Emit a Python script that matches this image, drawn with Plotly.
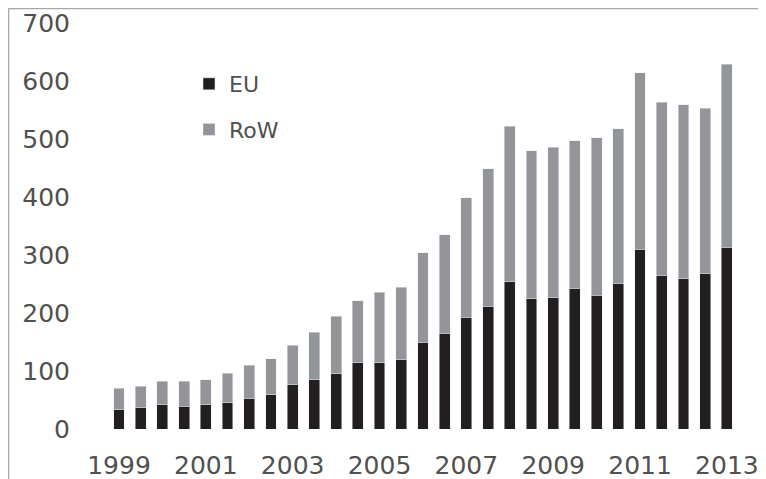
import plotly.graph_objects as go

periods = [1999 + 0.5 * i for i in range(29)]
eu = [33, 37, 42, 39, 42, 45, 53, 59, 76, 85, 95, 114, 114, 119, 150,
      165, 193, 212, 254, 225, 226, 243, 231, 251, 310, 265, 259, 268, 313]
total = [70, 74, 82, 82, 85, 96, 110, 121, 144, 167, 194, 221, 236, 244, 304,
         335, 399, 449, 522, 480, 486, 497, 502, 518, 614, 563, 559, 553, 629]
row = [t - e for t, e in zip(total, eu)]
tick_years = [1999, 2001, 2003, 2005, 2007, 2009, 2011, 2013]
tick_labels = [str(y) for y in tick_years]
y_ticks = [0, 100, 200, 300, 400, 500, 600, 700]

FONT = "DejaVu Sans"
TXT = "#505050"

fig = go.Figure()
fig.add_trace(go.Bar(x=periods, y=eu, name="EU", marker_color="#231f20",
                     width=0.25, legendgroup="a"))
fig.add_trace(go.Bar(x=periods, y=row, name="RoW", marker_color="#939598",
                     width=0.25, legendgroup="b"))

W, H = 758, 471
L, R, T, B = 72, 15, 15, 50
pw, ph = W - L - R, H - T - B
ppu = 21.71 / 0.5
r0 = 1999 - (111 - L) / ppu
r1 = r0 + pw / ppu

fig.update_layout(
    width=W, height=H,
    margin=dict(l=L, r=R, t=T, b=B, autoexpand=False),
    barmode="stack",
    plot_bgcolor="white", paper_bgcolor="white",
    font=dict(family=FONT, color=TXT),
    showlegend=True,
    legend=dict(x=(181 - L) / pw, y=1 - (55 - T) / ph, xanchor="left", yanchor="top",
                traceorder="grouped", tracegroupgap=14,
                font=dict(size=22, color=TXT, family=FONT),
                bgcolor="rgba(0,0,0,0)"),
    xaxis=dict(range=[r0, r1], tickvals=tick_years, ticktext=tick_labels,
               showgrid=False, zeroline=False, showline=False, automargin=False,
               tickfont=dict(size=25, color=TXT, family=FONT),
               ticklabeloverflow="allow",
               ticks="", ticklabelstandoff=19),
    yaxis=dict(range=[0, 700], tickvals=y_ticks, showgrid=False, zeroline=False,
               showline=False, ticks="", ticklabelstandoff=9, automargin=False,
               ticklabeloverflow="allow",
               tickfont=dict(size=25, color=TXT, family=FONT)),
)

xl = (0.5 - L) / pw
xr = 1 + R / pw
yt = 1 + (T - 0.5) / ph
yb = -B / ph
fig.add_shape(type="line", xref="paper", yref="paper", x0=xl, x1=xl, y0=yb, y1=yt,
              line=dict(color="#a8a8a8", width=1.5))
fig.add_shape(type="line", xref="paper", yref="paper", x0=xl, x1=xr, y0=yt, y1=yt,
              line=dict(color="#a8a8a8", width=1.5))

fig.write_html("out.html")
